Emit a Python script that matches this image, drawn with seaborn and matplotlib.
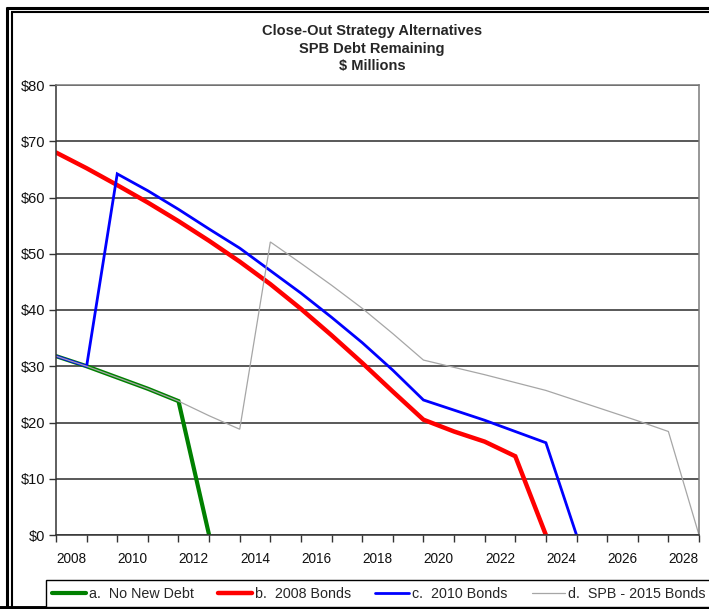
import matplotlib
matplotlib.use("Agg")
import matplotlib.pyplot as plt
from matplotlib.lines import Line2D
import seaborn as sns
import pandas as pd

# Debt remaining ($ millions) by period, one list per close-out strategy
no_new_debt = [31.8, 30.0, 28.0, 26.0, 23.8, 0.0]
bonds_2008 = [68.0, 65.2, 62.2, 59.1, 55.8, 52.3, 48.6, 44.6, 40.2, 35.5,
              30.6, 25.5, 20.5, 18.4, 16.6, 14.0, 0.0]
bonds_2010 = [31.8, 30.0, 64.2, 61.2, 57.9, 54.4, 51.0, 47.0, 43.0, 38.7,
              34.2, 29.3, 24.0, 22.2, 20.4, 18.4, 16.4, 0.0]
spb_2015 = [31.8, 30.0, 28.0, 26.0, 23.8, 21.2, 18.8, 52.1, 48.3, 44.4,
            40.3, 35.8, 31.1, 29.8, 28.5, 27.1, 25.7, 23.9, 22.1, 20.3,
            18.4, 0.0]

series_names = ["a.  No New Debt", "b.  2008 Bonds", "c.  2010 Bonds",
                "d.  SPB - 2015 Bonds"]
year_labels = ["2008", "2010", "2012", "2014", "2016", "2018", "2020",
               "2022", "2024", "2026", "2028"]
y_ticks = [0, 10, 20, 30, 40, 50, 60, 70, 80]
title_lines = ["Close-Out Strategy Alternatives", "SPB Debt Remaining",
               "$ Millions"]

sns.set_theme(style="white")
plt.rcParams["font.family"] = ["Liberation Sans", "DejaVu Sans"]

W, H = 709, 609
fig = plt.figure(figsize=(W / 100, H / 100), dpi=100)
fig.patch.set_facecolor("white")
ax = fig.add_axes([56 / W, 1 - 535 / H, (699 - 56) / W, (535 - 85) / H])
ax.set_facecolor("white")

styles = [
    (no_new_debt, "#008000", 3.0),
    (bonds_2008, "#ff0000", 3.2),
    (bonds_2010, "#0000ff", 2.0),
    (spb_2015, "#a6a6a6", 0.9),
]
handles = []
for (vals, color, lw), name in zip(styles, series_names):
    df = pd.DataFrame({"period": range(len(vals)), "debt": vals})
    sns.lineplot(data=df, x="period", y="debt", color=color, linewidth=lw,
                 ax=ax, legend=False, solid_joinstyle="miter")
    handles.append(Line2D([], [], color=color, linewidth=lw))

n_periods = len(spb_2015)
ax.set_xlim(0, n_periods - 1)
ax.set_ylim(0, 80)

# y axis: dollar labels with horizontal gridlines
ax.set_yticks(y_ticks)
ax.set_yticklabels([f"${v}" for v in y_ticks], fontsize=10.5, color="#111111")
ax.yaxis.grid(True, color="#2b2b2b", linewidth=1.1)
ax.tick_params(axis="y", direction="out", length=5, width=1,
               color="#333333", pad=3, left=True)

# x axis: a tick mark at every period, labels every other period between marks
ax.set_xticks(range(n_periods), minor=True)
ax.set_xticks([2 * i + 0.5 for i in range(len(year_labels))])
ax.set_xticklabels(year_labels, fontsize=9.8, color="#111111")
ax.tick_params(axis="x", which="major", length=0, pad=12)
ax.tick_params(axis="x", which="minor", direction="out", length=5, width=1,
               color="#333333", bottom=True)
ax.set_xlabel("")
ax.set_ylabel("")

for side in ["left", "bottom"]:
    ax.spines[side].set_color("#333333")
    ax.spines[side].set_linewidth(1.1)
for side in ["top", "right"]:
    ax.spines[side].set_color("#7a7a7a")
    ax.spines[side].set_linewidth(1.1)

# title block
fig.text(372 / W, 1 - 48.5 / H, "\n".join(title_lines), ha="center",
         va="center", fontsize=10.5, fontweight="bold", linespacing=1.36,
         family=["Liberation Sans Narrow", "Liberation Sans", "DejaVu Sans"])

# legend strip along the bottom
leg = fig.legend(handles, series_names, loc="lower left",
                 bbox_to_anchor=(46 / W, 1 - 607 / H, (712 - 46) / W, 0.05),
                 mode="expand", ncol=4, frameon=True, fancybox=False,
                 fontsize=10.3, handlelength=2.35, handletextpad=0.2,
                 borderpad=0.45, borderaxespad=0, columnspacing=1.0)
leg.get_frame().set_edgecolor("black")
leg.get_frame().set_linewidth(1.0)
leg.get_frame().set_facecolor("white")
leg.get_frame().set_alpha(1.0)

# double outline around the chart area
def fig_line(xs, ys, lw):
    fig.add_artist(Line2D([x / W for x in xs], [1 - y / H for y in ys],
                          color="black", linewidth=lw,
                          solid_capstyle="butt"))

fig_line([7.5, 7.5], [7.0, 609], 2.2)
fig_line([6.0, 709], [7.5, 7.5], 2.2)
fig_line([11.8, 11.8], [11.5, 609], 1.5)
fig_line([11.0, 709], [11.8, 11.8], 1.5)
fig_line([0, 709], [607.5, 607.5], 2.8)

fig.savefig("out.png", dpi=100, facecolor="white")
